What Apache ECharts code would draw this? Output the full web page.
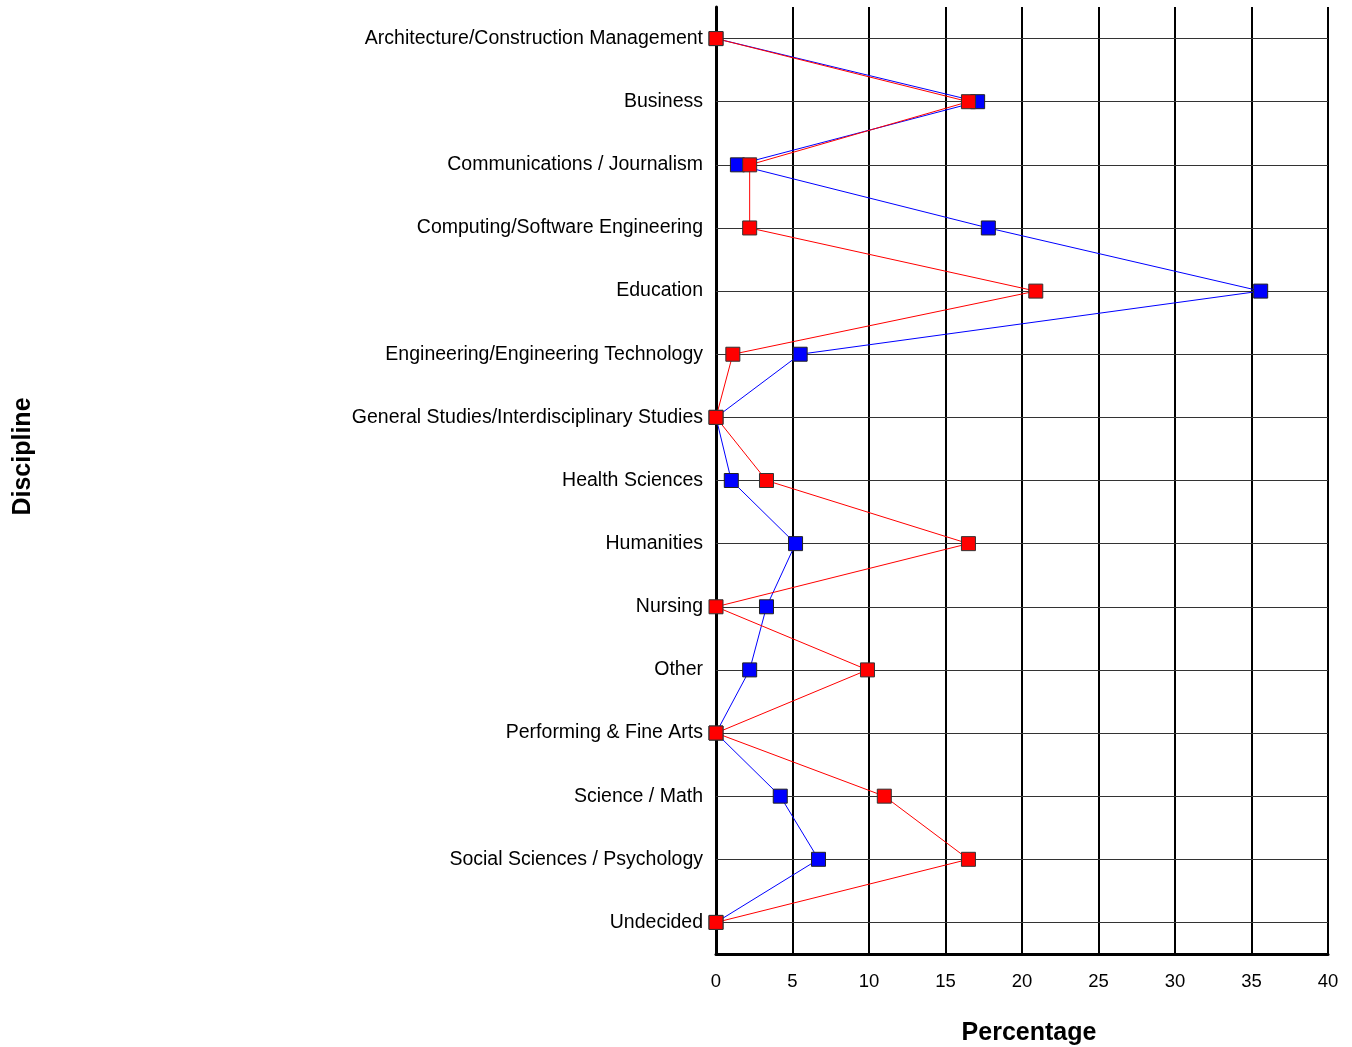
<!DOCTYPE html>
<html>
<head>
<meta charset="utf-8">
<script src="https://cdn.jsdelivr.net/npm/echarts@6/dist/echarts.min.js"></script>
<style>html,body{margin:0;padding:0;background:#fff;}#c{width:1352px;height:1047px;}</style>
</head>
<body>
<div id="c"></div>
<script>
const categories = [
  'Architecture/Construction Management',
  'Business',
  'Communications / Journalism',
  'Computing/Software Engineering',
  'Education',
  'Engineering/Engineering Technology',
  'General Studies/Interdisciplinary Studies',
  'Health Sciences',
  'Humanities',
  'Nursing',
  'Other',
  'Performing & Fine Arts',
  'Science / Math',
  'Social Sciences / Psychology',
  'Undecided'
];
const blueValues = [0, 17.1, 1.4, 17.8, 35.6, 5.5, 0, 1.0, 5.2, 3.3, 2.2, 0, 4.2, 6.7, 0];
const redValues  = [0, 16.5, 2.2, 2.2, 20.9, 1.1, 0, 3.3, 16.5, 0, 9.9, 0, 11.0, 16.5, 0];
const xTicks = [0, 5, 10, 15, 20, 25, 30, 35, 40];

const chart = echarts.init(document.getElementById('c'));
const font = 'Liberation Sans, Arial, sans-serif';
chart.setOption({
  animation: false,
  backgroundColor: '#fff',
  grid: { left: 716, right: 24, top: 7, bottom: 93, outerBoundsMode: 'none', containLabel: false },
  xAxis: {
    type: 'value',
    min: xTicks[0],
    max: xTicks[xTicks.length - 1],
    interval: 5,
    name: 'Percentage',
    nameLocation: 'middle',
    nameGap: 67,
    nameTextStyle: { fontFamily: font, fontSize: 25, fontWeight: 'bold', color: '#000', padding: [0, 0, 0, 14] },
    axisLine: { show: true, onZero: false, lineStyle: { color: '#000', width: 3 } },
    axisTick: { show: false },
    axisLabel: { fontFamily: font, fontSize: 18.5, color: '#000', margin: 18 },
    splitLine: { show: true, lineStyle: { color: '#000', width: 2 } }
  },
  yAxis: {
    type: 'category',
    data: categories,
    inverse: true,
    boundaryGap: true,
    name: 'Discipline',
    nameLocation: 'middle',
    nameGap: 680,
    nameRotate: 90,
    nameTextStyle: { fontFamily: font, fontSize: 25, fontWeight: 'bold', color: '#000', padding: [0, 0, 0, 48] },
    axisLine: { show: true, lineStyle: { color: '#000', width: 3 } },
    axisTick: { show: false },
    axisLabel: { fontFamily: font, fontSize: 19.5, color: '#000', margin: 13, padding: [3, 0, 0, 0] },
    splitLine: { show: false }
  },
  series: [
    {
      type: 'line',
      data: blueValues,
      symbol: 'rect',
      symbolSize: 14,
      lineStyle: { color: '#0000ff', width: 1 },
      itemStyle: { color: '#0000ff', borderColor: '#222', borderWidth: 1 },
      markLine: {
        silent: true,
        z: 1,
        symbol: 'none',
        label: { show: false },
        lineStyle: { color: '#333', width: 1, type: 'solid' },
        data: categories.map(c => ({ yAxis: c }))
      }
    },
    {
      type: 'line',
      data: redValues,
      symbol: 'rect',
      symbolSize: 14,
      lineStyle: { color: '#ff0000', width: 1 },
      itemStyle: { color: '#ff0000', borderColor: '#333', borderWidth: 1 }
    }
  ]
});
</script>
</body>
</html>
